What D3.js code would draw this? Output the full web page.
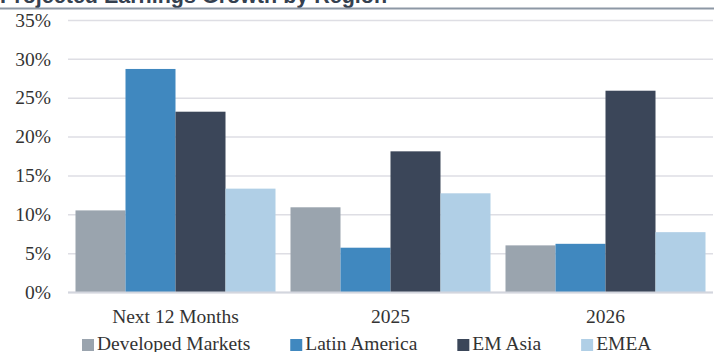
<!DOCTYPE html>
<html>
<head>
<meta charset="utf-8">
<script src="https://cdn.jsdelivr.net/npm/d3@7"></script>
<style>
  body { margin: 0; background: #fff; }
  svg { display: block; }
  text { font-family: "Liberation Serif", serif; fill: #333; }
</style>
</head>
<body>
<svg width="714" height="352"></svg>
<script>
var categories = ["Next 12 Months", "2025", "2026"];
var regions = ["Developed Markets", "Latin America", "EM Asia", "EMEA"];
var developed = [10.5, 10.9, 6.0];
var latam = [28.7, 5.7, 6.2];
var emAsia = [23.2, 18.1, 25.9];
var emea = [13.3, 12.7, 7.7];
var yTicks = [0, 5, 10, 15, 20, 25, 30, 35];
var colors = ["#9aa4ae", "#4088bf", "#3b4659", "#b0cfe6"];

var series = [developed, latam, emAsia, emea];
var data = categories.map(function(c, i) {
    return { cat: c, values: regions.map(function(r, j) { return { key: r, value: series[j][i] }; }) };
});

var svg = d3.select("svg");
var plot = { left: 68, right: 713, top: 20, bottom: 292 };

// title, cut off at top like the source
svg.append("text")
    .attr("x", 0)
    .attr("y", 3)
    .style("font-family", "'Liberation Sans', sans-serif")
    .style("font-weight", "bold")
    .style("font-size", "21.5px")
    .style("fill", "#34404f")
    .text("Projected Earnings Growth by Region");

svg.append("line")
    .attr("x1", 0).attr("x2", 714)
    .attr("y1", 8.5).attr("y2", 8.5)
    .attr("stroke", "#8d98a5")
    .attr("stroke-width", 2);

var x0 = d3.scaleBand()
    .domain(categories)
    .range([plot.left, plot.right])
    .paddingInner(15 / 215)
    .paddingOuter(7.5 / 215);

var x1 = d3.scaleBand()
    .domain(regions)
    .range([0, x0.bandwidth()]);

var y = d3.scaleLinear()
    .domain([0, 35])
    .range([plot.bottom, plot.top]);

var color = d3.scaleOrdinal().domain(regions).range(colors);

// y axis with gridlines
var yAxis = svg.append("g")
    .attr("transform", "translate(" + plot.left + ",0)")
    .call(d3.axisLeft(y)
        .tickValues(yTicks)
        .tickSize(-(plot.right - plot.left))
        .tickPadding(17)
        .tickFormat(function(d) { return d + "%"; }));
yAxis.select(".domain").remove();
yAxis.attr("font-family", null).attr("font-size", null);
yAxis.selectAll(".tick line")
    .attr("stroke", "#dedee4")
    .attr("stroke-width", 1.5);
yAxis.selectAll(".tick text")
    .style("font-family", "'Liberation Serif', serif")
    .style("font-size", "19.5px")
    .style("fill", "#333");

// bars
svg.append("g")
    .selectAll("g")
    .data(data)
    .enter().append("g")
    .attr("transform", function(d) { return "translate(" + x0(d.cat) + ",0)"; })
    .selectAll("rect")
    .data(function(d) { return d.values; })
    .enter().append("rect")
    .attr("x", function(d) { return x1(d.key); })
    .attr("y", function(d) { return y(d.value); })
    .attr("width", x1.bandwidth())
    .attr("height", function(d) { return y(0) - y(d.value); })
    .attr("fill", function(d) { return color(d.key); });

// baseline
svg.append("line")
    .attr("x1", plot.left).attr("x2", plot.right)
    .attr("y1", y(0) + 0.5).attr("y2", y(0) + 0.5)
    .attr("stroke", "#d3d6de")
    .attr("stroke-width", 2);

// category axis
var xAxis = svg.append("g")
    .attr("transform", "translate(0," + plot.bottom + ")")
    .call(d3.axisBottom(x0).tickSize(0).tickPadding(17));
xAxis.select(".domain").remove();
xAxis.attr("font-family", null).attr("font-size", null);
xAxis.selectAll(".tick text")
    .style("font-family", "'Liberation Serif', serif")
    .style("font-size", "19.5px")
    .style("fill", "#333");

// legend
var legend = svg.append("g");
var lx = 82;
regions.forEach(function(r) {
    legend.append("rect")
        .attr("x", lx).attr("y", 339)
        .attr("width", 12).attr("height", 12)
        .attr("fill", color(r));
    var t = legend.append("text")
        .attr("x", lx + 15).attr("y", 350)
        .style("font-size", "19.5px")
        .text(r);
    lx += 15 + t.node().getComputedTextLength() + 40;
});
</script>
</body>
</html>
